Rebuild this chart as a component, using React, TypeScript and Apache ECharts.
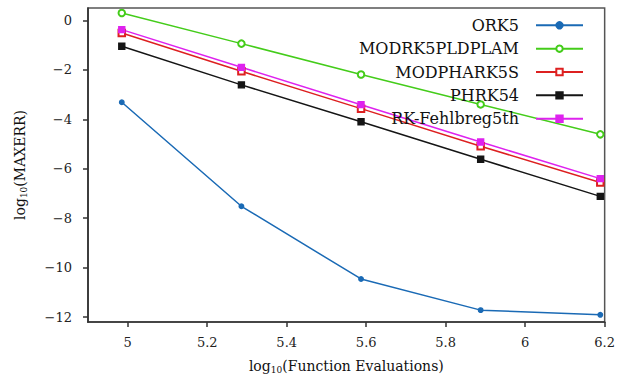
import React, { useEffect, useRef } from "react";
import * as echarts from "echarts";

const xValues = [4.985, 5.286, 5.587, 5.888, 6.189];
const ork5 = [-3.31, -7.52, -10.46, -11.72, -11.91];
const modrk5pldplam = [0.3, -0.94, -2.19, -3.4, -4.61];
const modphark5s = [-0.51, -2.06, -3.57, -5.09, -6.56];
const phrk54 = [-1.05, -2.61, -4.1, -5.62, -7.12];
const rkFehlberg = [-0.375, -1.9, -3.41, -4.92, -6.4];

const xTicks = [5, 5.2, 5.4, 5.6, 5.8, 6, 6.2];
const yTicks = [-12, -10, -8, -6, -4, -2, 0];

const FONT = "'DejaVu Serif', serif";

const fmt = (v: number) => String(Math.round(v * 10) / 10).replace("-", "\u2212");

export default function App() {
  const ref = useRef<HTMLDivElement>(null);
  useEffect(() => {
    if (!ref.current) return;
    const chart = echarts.init(ref.current, null, { renderer: "svg" });
    const mk = (
      name: string,
      vals: number[],
      color: string,
      symbol: string,
      size: number
    ) => ({
      name,
      type: "line",
      data: vals.map((v, i) => [xValues[i], v]),
      symbol,
      symbolSize: size,
      lineStyle: { color, width: 1.5 },
      itemStyle: { color, borderColor: color, borderWidth: 1.4 },
    });
    const nameRich = {
      sub: { fontSize: 9, fontFamily: FONT, color: "#111", verticalAlign: "bottom", lineHeight: 10 },
    };
    chart.setOption({
      animation: false,
      textStyle: { fontFamily: FONT },
      grid: {
        left: 88,
        top: 8,
        right: 13,
        bottom: 56,
        show: true,
        borderColor: "#555",
        borderWidth: 1.5,
      },
      legend: {
        orient: "vertical",
        right: 34,
        top: 17.3,
        padding: 0,
        align: "right",
        itemWidth: 47,
        itemHeight: 8,
        itemGap: 7.35,
        textStyle: {
          fontFamily: FONT,
          fontSize: 16,
          color: "#111",
          lineHeight: 8,
          padding: [0, 12, 0, 0],
        },
        data: ["ORK5", "MODRK5PLDPLAM", "MODPHARK5S", "PHRK54", "RK-Fehlbreg5th"],
      },
      xAxis: {
        type: "value",
        min: 4.9,
        max: 6.2,
        name: "log{sub|10}(Function Evaluations)",
        nameLocation: "middle",
        nameGap: 36,
        nameTextStyle: { fontFamily: FONT, fontSize: 14, color: "#111", lineHeight: 16, rich: nameRich },
        axisLine: { onZero: false, lineStyle: { color: "#333", width: 1.7 } },
        axisTick: { show: true, length: 5, lineStyle: { color: "#333", width: 1.5 }, customValues: xTicks },
        axisLabel: {
          customValues: xTicks,
          formatter: fmt,
          fontFamily: FONT,
          fontSize: 13,
          color: "#222",
          margin: 14,
        },
        splitLine: { show: false },
      },
      yAxis: {
        type: "value",
        min: -12.2,
        max: 0.5,
        name: "log{sub|10}(MAXERR)",
        nameLocation: "middle",
        nameGap: 60,
        nameRotate: 90,
        nameTextStyle: { fontFamily: FONT, fontSize: 14, color: "#111", lineHeight: 16, rich: nameRich },
        axisLine: { show: true, onZero: false, lineStyle: { color: "#333", width: 1.7 } },
        axisTick: { show: true, length: 5, lineStyle: { color: "#333", width: 1.5 }, customValues: yTicks },
        axisLabel: {
          customValues: yTicks,
          formatter: fmt,
          fontFamily: FONT,
          fontSize: 13,
          color: "#222",
          margin: 16,
        },
        splitLine: { show: false },
      },
      series: [
        mk("ORK5", ork5, "#1a6ab5", "circle", 4.5),
        mk("MODRK5PLDPLAM", modrk5pldplam, "#44cc1a", "emptyCircle", 6.5),
        mk("MODPHARK5S", modphark5s, "#dd2020", "emptyRect", 6.5),
        mk("PHRK54", phrk54, "#151515", "rect", 6),
        mk("RK-Fehlbreg5th", rkFehlberg, "#de22ee", "rect", 6),
      ],
    });
    return () => chart.dispose();
  }, []);
  return <div ref={ref} style={{ width: 618, height: 379, position: "absolute", left: 0, top: 0 }} />;
}
